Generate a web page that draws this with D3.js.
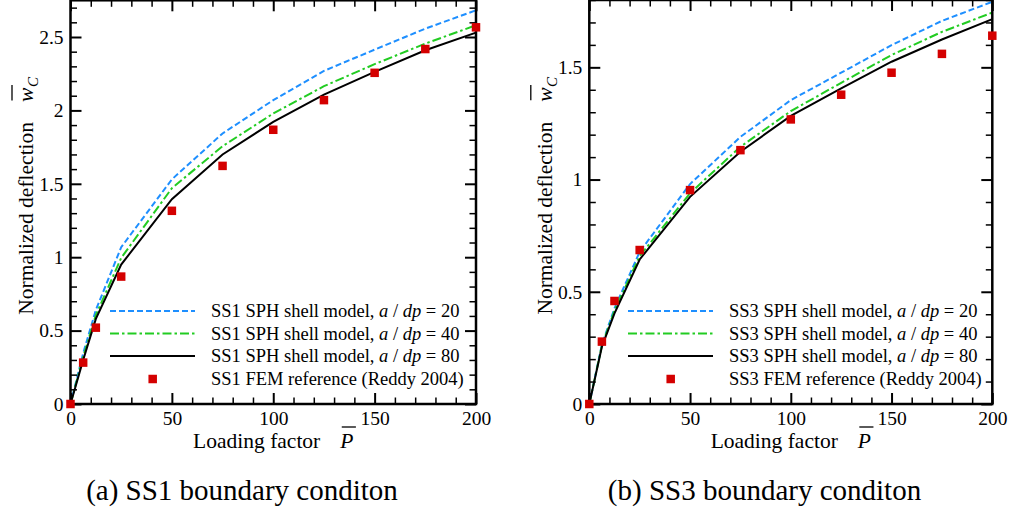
<!DOCTYPE html>
<html>
<head>
<meta charset="utf-8">
<script src="https://cdn.jsdelivr.net/npm/d3@7"></script>
<style>
  html, body { margin: 0; padding: 0; background: #fff; }
  svg { display: block; }
  svg text, svg tspan { font-family: "Liberation Serif" !important; }
</style>
</head>
<body>
<svg id="fig" width="1013" height="510"></svg>
<script>
// Loading factor P at which deflections were computed
const loadFactor = [0, 6.25, 12.5, 25, 50, 75, 100, 125, 150, 175, 200];

// SS1 boundary condition: normalized centre deflection w_C
const ss1Dp20 = [0, 0.345, 0.64, 1.068, 1.53, 1.843, 2.07, 2.269, 2.414, 2.557, 2.682];
const ss1Dp40 = [0, 0.32, 0.605, 0.995, 1.47, 1.756, 1.979, 2.165, 2.315, 2.455, 2.58];
const ss1Dp80 = [0, 0.30, 0.58, 0.95, 1.395, 1.70, 1.922, 2.108, 2.262, 2.41, 2.53];
const ss1Fem  = [0, 0.282, 0.52, 0.868, 1.316, 1.622, 1.868, 2.07, 2.256, 2.418, 2.566];

// SS3 boundary condition
const ss3Dp20 = [0, 0.265, 0.426, 0.678, 0.98, 1.19, 1.354, 1.476, 1.599, 1.707, 1.792];
const ss3Dp40 = [0, 0.26, 0.416, 0.659, 0.939, 1.146, 1.305, 1.431, 1.555, 1.658, 1.744];
const ss3Dp80 = [0, 0.255, 0.404, 0.644, 0.923, 1.124, 1.284, 1.406, 1.525, 1.624, 1.715];
const ss3Fem  = [0, 0.278, 0.459, 0.686, 0.953, 1.131, 1.268, 1.378, 1.476, 1.560, 1.641];

// Axis ticks
const xTicks = [0, 50, 100, 150, 200];
const ss1YTicks = [0, 0.5, 1, 1.5, 2, 2.5];
const ss3YTicks = [0, 0.5, 1, 1.5];
const resolutions = [20, 40, 80];
const captions = ["(a) SS1 boundary conditon", "(b) SS3 boundary conditon"];

const FONT = '"Liberation Serif"';

const lineStyles = [
  { color: "#1e8fff", dash: "6,3" },
  { color: "#22cc22", dash: "9,3,2.5,3" },
  { color: "#000000", dash: null }
];
const femColor = "#d40000";

const panels = [
  { label: "SS1", left: 70.5, right: 476, top: 0.3, bottom: 404, yMax: 2.75,
    yTicks: ss1YTicks, sph: [ss1Dp20, ss1Dp40, ss1Dp80], fem: ss1Fem,
    caption: captions[0], captionX: 242, legendX: 110 },
  { label: "SS3", left: 589.3, right: 992.3, top: 0, bottom: 404, yMax: 1.8,
    yTicks: ss3YTicks, sph: [ss3Dp20, ss3Dp40, ss3Dp80], fem: ss3Fem,
    caption: captions[1], captionX: 764.5, legendX: 628 }
];

const svg = d3.select("#fig");
const fmt = d3.format("~g");

function styleAxis(sel, major) {
  sel.select(".domain").remove();
  sel.attr("font-family", null).attr("font-size", 19.5);
  sel.selectAll(".tick line").attr("stroke", "#000").attr("stroke-width", major ? 2 : 1.5);
  sel.selectAll(".tick text").attr("fill", "#000").style("font-family", FONT);
}

function addText(parent, x, y, size, italic, str) {
  return parent.append("text").attr("x", x).attr("y", y)
    .style("font-family", FONT).attr("font-size", size)
    .attr("font-style", italic ? "italic" : null)
    .attr("fill", "#000").text(str);
}

// Title made of a roman part, a gap and an italic symbol with an overbar
// (and optional italic subscript), centred on 0 in the parent's coordinates.
function barTitle(parent, baseY, roman, gap, sym, sub) {
  const size = 21.5;
  const t1 = addText(parent, 0, baseY, size, false, roman);
  const t2 = addText(parent, 0, baseY, size, true, sym);
  const w1 = t1.node().getComputedTextLength();
  const w2 = t2.node().getComputedTextLength();
  let w3 = 0, t3 = null;
  if (sub) {
    t3 = addText(parent, 0, baseY + 5, 15, true, sub);
    w3 = t3.node().getComputedTextLength();
  }
  const total = w1 + gap + w2 + w3;
  const x0 = -total / 2;
  t1.attr("x", x0);
  t2.attr("x", x0 + w1 + gap);
  if (t3) t3.attr("x", x0 + w1 + gap + w2 + 0.5);
  const bx = x0 + w1 + gap;
  parent.append("line")
    .attr("x1", bx + 1.5).attr("x2", bx + w2 + 2.5)
    .attr("y1", baseY - 21).attr("y2", baseY - 21)
    .attr("stroke", "#000").attr("stroke-width", 1.3);
}

panels.forEach(p => {
  const x = d3.scaleLinear().domain([0, 200]).range([p.left, p.right]);
  const y = d3.scaleLinear().domain([0, p.yMax]).range([p.bottom, p.top]);
  const g = svg.append("g");

  const xMinor = d3.range(0, 201, 10).filter(v => !xTicks.includes(v));
  const yMinor = d3.range(0, Math.round(p.yMax * 10) + 1)
    .map(i => +(i / 10).toFixed(1))
    .filter(v => v <= p.yMax && !p.yTicks.includes(v));

  // SPH curves
  const line = d3.line().x(d => x(d[0])).y(d => y(d[1]));
  p.sph.forEach((vals, i) => {
    const st = lineStyles[i];
    g.append("path")
      .datum(loadFactor.map((v, k) => [v, vals[k]]))
      .attr("d", line)
      .attr("fill", "none")
      .attr("stroke", st.color)
      .attr("stroke-width", 2)
      .attr("stroke-dasharray", st.dash);
  });

  // Axes: ticks point inward on all four sides
  g.append("g").attr("transform", `translate(0,${p.bottom})`)
    .call(d3.axisBottom(x).tickValues(xTicks).tickSize(-11).tickPadding(7).tickFormat(fmt))
    .call(s => styleAxis(s, true));
  g.append("g").attr("transform", `translate(0,${p.bottom})`)
    .call(d3.axisBottom(x).tickValues(xMinor).tickSize(-6.5).tickFormat(""))
    .call(s => styleAxis(s, false));
  g.append("g").attr("transform", `translate(0,${p.top})`)
    .call(d3.axisTop(x).tickValues(xTicks).tickSize(-11).tickFormat(""))
    .call(s => styleAxis(s, true));
  g.append("g").attr("transform", `translate(0,${p.top})`)
    .call(d3.axisTop(x).tickValues(xMinor).tickSize(-6.5).tickFormat(""))
    .call(s => styleAxis(s, false));
  g.append("g").attr("transform", `translate(${p.left},0)`)
    .call(d3.axisLeft(y).tickValues(p.yTicks).tickSize(-11).tickPadding(7).tickFormat(fmt))
    .call(s => styleAxis(s, true));
  g.append("g").attr("transform", `translate(${p.left},0)`)
    .call(d3.axisLeft(y).tickValues(yMinor).tickSize(-6.5).tickFormat(""))
    .call(s => styleAxis(s, false));
  g.append("g").attr("transform", `translate(${p.right},0)`)
    .call(d3.axisRight(y).tickValues(p.yTicks).tickSize(-11).tickFormat(""))
    .call(s => styleAxis(s, true));
  g.append("g").attr("transform", `translate(${p.right},0)`)
    .call(d3.axisRight(y).tickValues(yMinor).tickSize(-6.5).tickFormat(""))
    .call(s => styleAxis(s, false));

  g.append("rect")
    .attr("x", p.left).attr("y", p.top)
    .attr("width", p.right - p.left).attr("height", p.bottom - p.top)
    .attr("fill", "none").attr("stroke", "#000").attr("stroke-width", 2.5);

  // FEM reference points
  const ms = 8.5;
  g.selectAll("rect.fem")
    .data(loadFactor.map((v, k) => [v, p.fem[k]]))
    .join("rect").attr("class", "fem")
    .attr("x", d => x(d[0]) - ms / 2).attr("y", d => y(d[1]) - ms / 2)
    .attr("width", ms).attr("height", ms).attr("fill", femColor);

  // Legend
  const rowY = [311, 333.5, 356, 379];
  const lx = p.legendX, tx = lx + 101;
  resolutions.forEach((r, i) => {
    const st = lineStyles[i];
    g.append("line")
      .attr("x1", lx).attr("x2", lx + 85).attr("y1", rowY[i]).attr("y2", rowY[i])
      .attr("stroke", st.color).attr("stroke-width", 2).attr("stroke-dasharray", st.dash);
    const t = g.append("text").attr("x", tx).attr("y", rowY[i]).attr("dy", "0.35em")
      .style("font-family", FONT).attr("font-size", 18.5).attr("fill", "#000");
    t.append("tspan").text(`${p.label} SPH shell model, `);
    t.append("tspan").attr("font-style", "italic").text("a");
    t.append("tspan").text(" / ");
    t.append("tspan").attr("font-style", "italic").text("dp");
    t.append("tspan").text(` = ${r}`);
  });
  g.append("rect")
    .attr("x", lx + 42.7 - ms / 2).attr("y", rowY[3] - ms / 2)
    .attr("width", ms).attr("height", ms).attr("fill", femColor);
  g.append("text").attr("x", tx).attr("y", rowY[3]).attr("dy", "0.35em")
    .style("font-family", FONT).attr("font-size", 18.5).attr("fill", "#000")
    .text(`${p.label} FEM reference (Reddy 2004)`);

  // X axis title: Loading factor P-bar
  const xg = g.append("g").attr("transform", `translate(${(p.left + p.right) / 2},0)`);
  barTitle(xg, 448, "Loading factor", 20, "P", null);

  // Y axis title: Normalized deflection w-bar_C
  const cy = (p.top + p.bottom) / 2 - 6;
  const yg = g.append("g").attr("transform", `translate(${p.left - 37.5},${cy}) rotate(-90)`);
  barTitle(yg, 0, "Normalized deflection", 20, "w", "C");

  // Sub-figure caption
  g.append("text").attr("x", p.captionX).attr("y", 500)
    .attr("text-anchor", "middle").style("font-family", FONT)
    .attr("font-size", 29).attr("fill", "#000")
    .text(p.caption);
});
</script>
</body>
</html>
